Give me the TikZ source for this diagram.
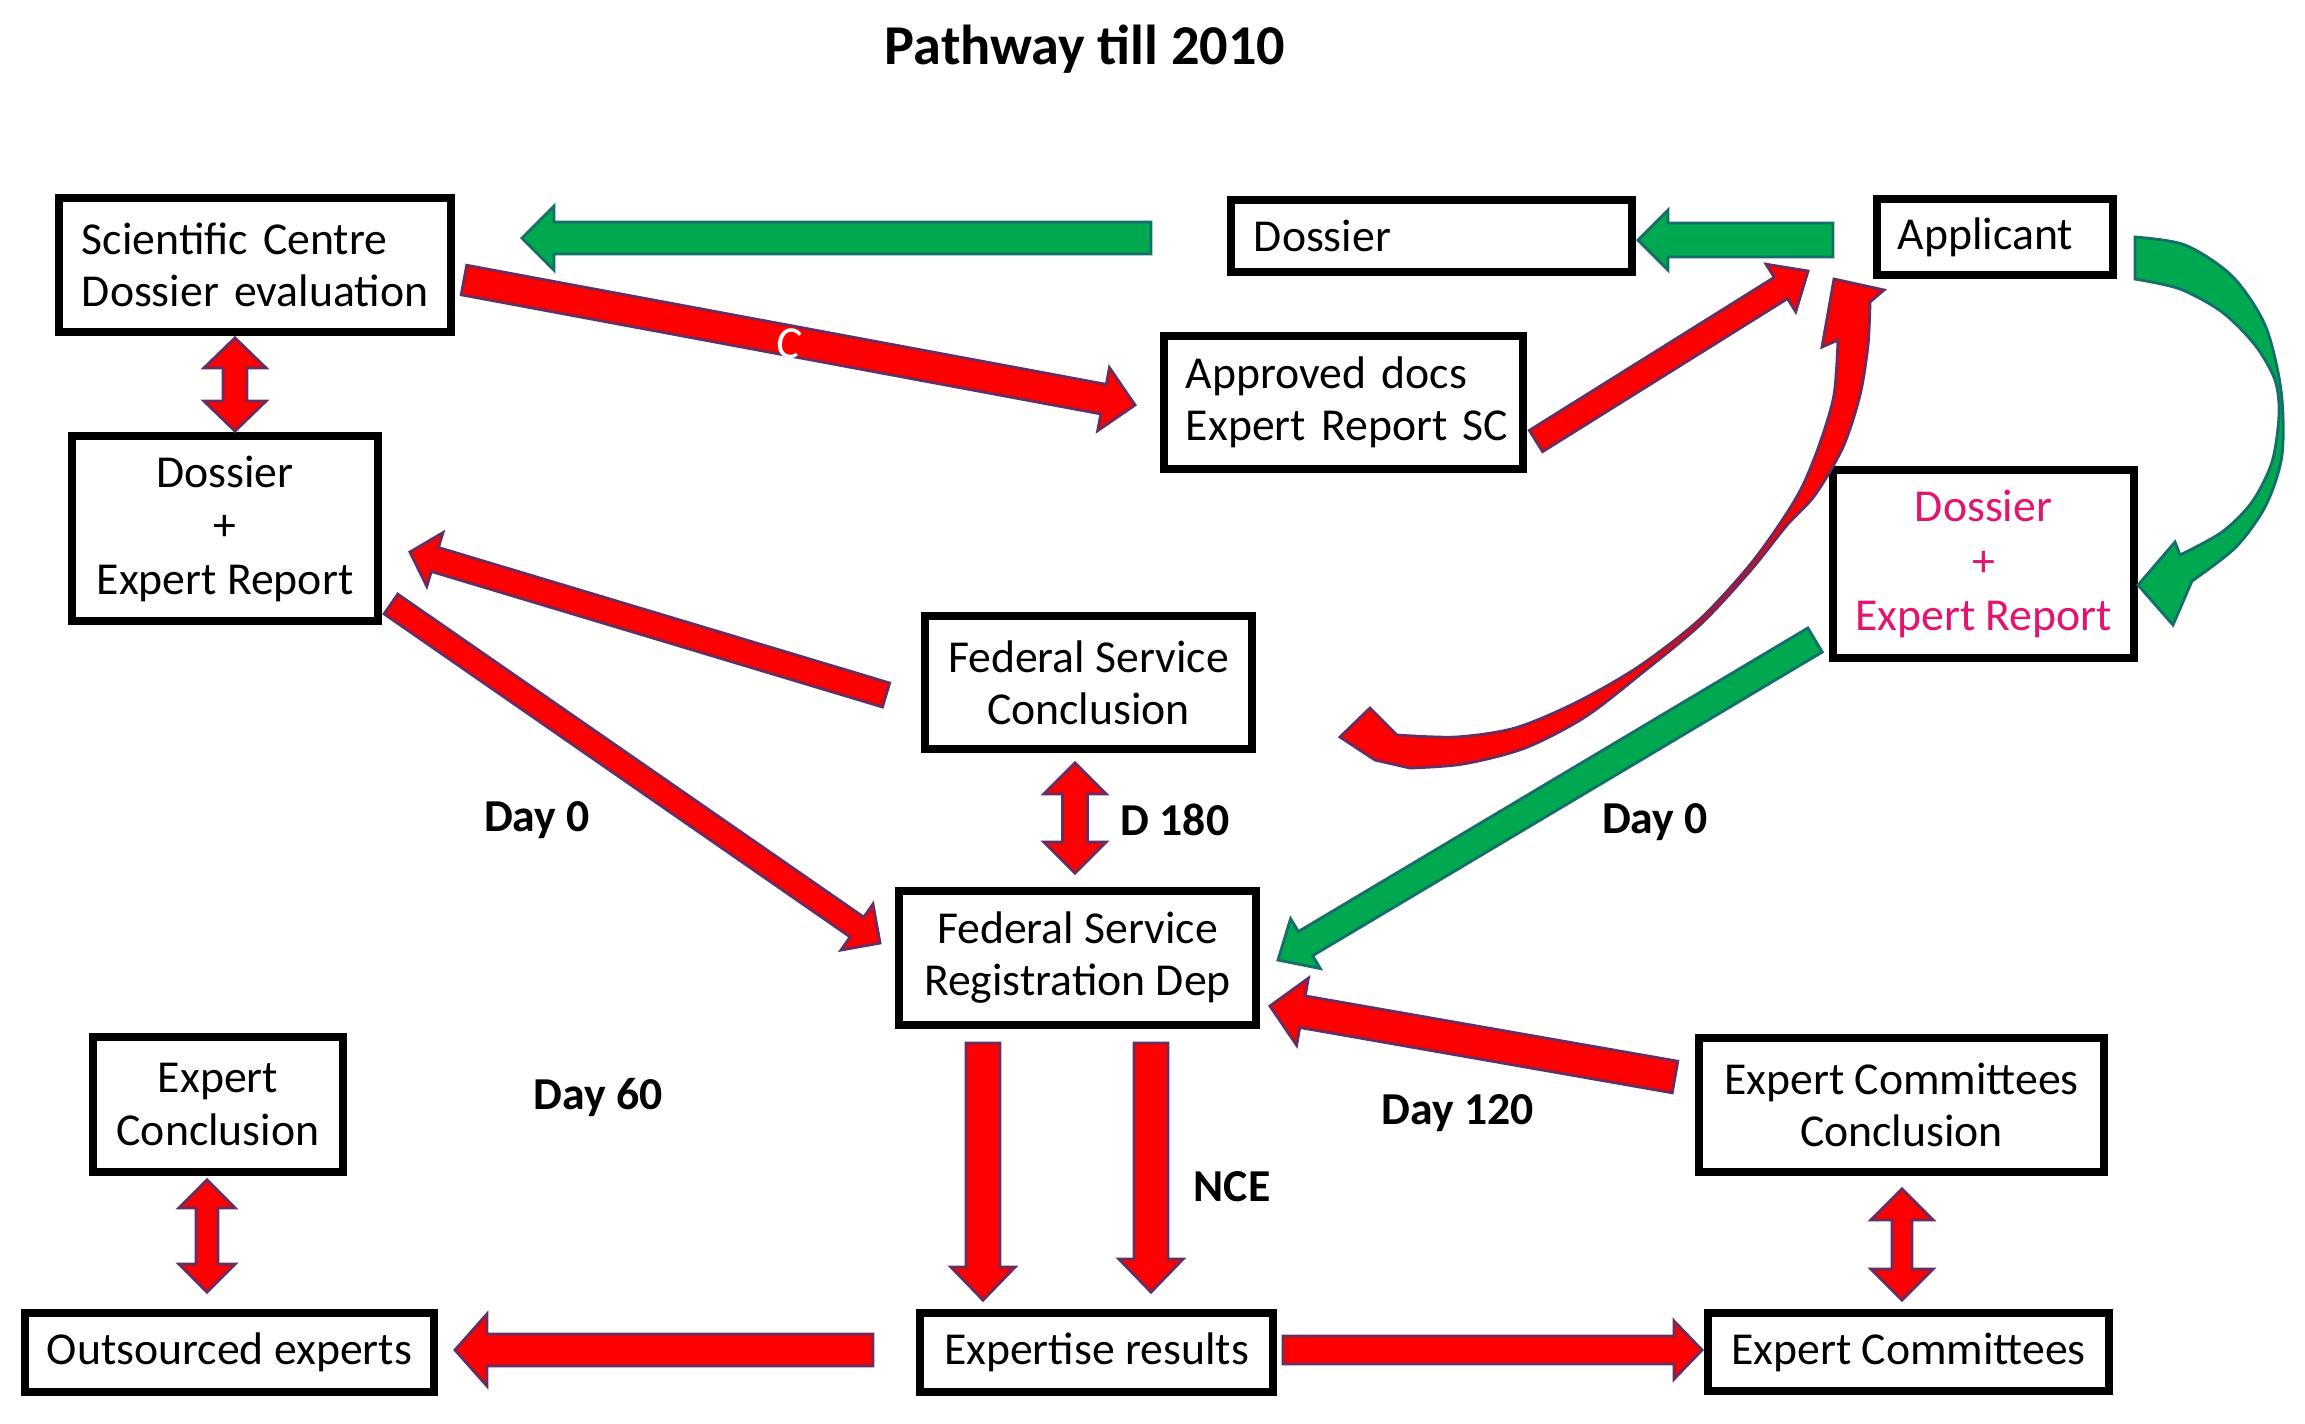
\documentclass[tikz,border=0pt]{standalone}
\usepackage{fontspec}
\setmainfont{Carlito}
\usetikzlibrary{calc}
\definecolor{arrred}{RGB}{255,0,0}
\definecolor{redline}{RGB}{105,45,95}
\definecolor{arrgreen}{RGB}{0,168,80}
\definecolor{greenline}{RGB}{20,110,105}
\definecolor{pinktext}{RGB}{228,20,110}
% single block arrow: [style]{from}{to}{shaft half width}{head half width}{head length}
\newcommand\blockarrow[6][]{%
  \path ($(#3)!#6!(#2)$) coordinate (bah);
  \filldraw[#1] ($(#2)!#4!90:(#3)$) -- ($(bah)!#4!90:(#3)$) -- ($(bah)!#5!90:(#3)$) -- (#3)
    -- ($(bah)!#5!-90:(#3)$) -- ($(bah)!#4!-90:(#3)$) -- ($(#2)!#4!-90:(#3)$) -- cycle;}
% double block arrow
\newcommand\dblarrow[6][]{%
  \path ($(#3)!#6!(#2)$) coordinate (dbh) ($(#2)!#6!(#3)$) coordinate (dba);
  \filldraw[#1] (#2) -- ($(dba)!#5!90:(#3)$) -- ($(dba)!#4!90:(#3)$) -- ($(dbh)!#4!90:(#3)$)
    -- ($(dbh)!#5!90:(#3)$) -- (#3) -- ($(dbh)!#5!-90:(#3)$) -- ($(dbh)!#4!-90:(#3)$)
    -- ($(dba)!#4!-90:(#3)$) -- ($(dba)!#5!-90:(#3)$) -- cycle;}
\begin{document}
\begin{tikzpicture}[x=0.01cm,y=-0.01cm,
  box/.style={draw=black, line width=2.2pt, fill=white, inner sep=0pt,
    font=\fontsize{13}{14.8}\selectfont, align=center},
  lbox/.style={box, align=left, inner xsep=#1},
  lbl/.style={font=\fontsize{13}{15}\selectfont\bfseries},
  redarr/.style={fill=arrred, draw=redline, line width=0.8pt, line join=miter},
  grnarr/.style={fill=arrgreen, draw=greenline, line width=0.8pt, line join=miter}]
\fill[white] (0,0) rectangle (2305,1423);
\useasboundingbox (0,0) rectangle (2305,1423);

\node[font=\fontsize{16}{18}\selectfont\bfseries] (title) at (1085,49) {Pathway till 2010};

% boxes
\node[lbox=0.23cm, text width=3.46cm, minimum height=1.34cm] (sc) at (255,265) {\mbox{Scientific Centre}\\\mbox{Dossier evaluation}};
\node[lbox=0.23cm, text width=3.55cm, minimum height=0.72cm] (dos) at (1431.5,236) {\mbox{Dossier}};
\node[lbox=0.21cm, text width=1.94cm, minimum height=0.76cm] (app) at (1995,237) {\mbox{Applicant}};
\node[lbox=0.22cm, text width=3.15cm, minimum height=1.33cm] (apr) at (1343.5,402.5) {\mbox{Approved docs}\\\mbox{Expert Report SC}};
\node[box, minimum width=3.06cm, minimum height=1.85cm, font=\fontsize{13}{15.2}\selectfont] (dl) at (225,528.5) {Dossier\\+\\Expert Report};
\node[box, minimum width=3.01cm, minimum height=1.88cm, text=pinktext, font=\fontsize{13}{15.4}\selectfont] (dr) at (1983.5,564) {Dossier\\+\\Expert Report};
\node[box, minimum width=3.27cm, minimum height=1.33cm] (fsc) at (1088.5,682.5) {Federal Service\\Conclusion};
\node[box, minimum width=3.57cm, minimum height=1.34cm] (fsr) at (1077.5,958) {Federal Service\\Registration Dep};
\node[box, minimum width=2.50cm, minimum height=1.35cm] (ec) at (218,1104.5) {Expert\\Conclusion};
\node[box, minimum width=4.05cm, minimum height=1.34cm] (ecc) at (1901.5,1105) {Expert Committees\\Conclusion};
\node[box, minimum width=4.09cm, minimum height=0.79cm] (out) at (229.5,1352.5) {Outsourced experts};
\node[box, minimum width=3.53cm, minimum height=0.79cm] (exr) at (1096.5,1352.5) {Expertise results};
\node[box, minimum width=4.01cm, minimum height=0.78cm] (ecm) at (1908.5,1352) {Expert Committees};

% labels
\node[lbl] (l1) at (537,820) {Day 0};
\node[lbl] (l2) at (1175,820) {D 180};
\node[lbl] (l3) at (1655,822) {Day 0};
\node[lbl] (l4) at (598,1097) {Day 60};
\node[lbl] (l5) at (1458,1113) {Day 120};
\node[lbl] (l6) at (1232,1187) {NCE};

% connector end points
\coordinate (a1) at ($(dos.west)+(-76,2)$);   \coordinate (a2) at ($(sc.east)+(67,-27)$);
\coordinate (b1) at ($(app.west)+(-40,3)$);   \coordinate (b2) at ($(dos.east)+(2,4)$);
\coordinate (c1) at ($(sc.east)+(9,15)$);     \coordinate (c2) at ($(apr.west)+(-25,2.5)$);
\coordinate (d1) at ($(apr.east)+(9,38.5)$);  \coordinate (d2) at ($(app.west)+(-65,34)$);
\coordinate (e1) at ($(sc.south)+(-20,2)$);   \coordinate (e2) at ($(dl.north)+(10,-1)$);
\coordinate (f1) at ($(fsc.west)+(-35,12.5)$); \coordinate (f2) at ($(dl.east)+(28,23.5)$);
\coordinate (g1) at ($(dl.east)+(9,75.5)$);   \coordinate (g2) at ($(fsr.west)+(-15,-15)$);
\coordinate (h1) at ($(dr.west)+(-14,76)$);   \coordinate (h2) at ($(fsr.east)+(18,2)$);
\coordinate (i1) at ($(fsc.south)+(-13.5,10)$); \coordinate (i2) at ($(fsr.north)+(-2.5,-14)$);
\coordinate (j1) at ($(ecc.west)+(-20,-28)$); \coordinate (j2) at ($(fsr.east)+(10,48)$);
\coordinate (k1) at ($(fsr.south)+(-94.5,14)$); \coordinate (k2) at ($(exr.north)+(-113.5,-9)$);
\coordinate (m1) at ($(fsr.south)+(73.5,14)$); \coordinate (m2) at ($(exr.north)+(54.5,-17)$);
\coordinate (n1) at ($(exr.west)+(-43,-2.5)$); \coordinate (n2) at ($(out.east)+(17,-2.5)$);
\coordinate (p1) at ($(exr.east)+(6,-2.5)$);  \coordinate (p2) at ($(ecm.west)+(-2,-2)$);
\coordinate (q1) at ($(ec.south)+(-11,4)$);   \coordinate (q2) at ($(out.north)+(-22.5,-17)$);
\coordinate (r1) at ($(ecc.south)+(0.5,13)$); \coordinate (r2) at ($(ecm.north)+(-6.5,-9)$);

% straight block arrows
\blockarrow[grnarr]{a1}{a2}{0.16cm}{0.32cm}{0.32cm}
\blockarrow[grnarr]{b1}{b2}{0.17cm}{0.30cm}{0.30cm}
\blockarrow[redarr]{c1}{c2}{0.15cm}{0.32cm}{0.32cm}
\node[text=white, rotate=-10.5, font=\fontsize{13}{15}\selectfont] (cl) at (789,343) {C};
\blockarrow[redarr]{d1}{d2}{0.125cm}{0.28cm}{0.32cm}
\dblarrow[redarr]{e1}{e2}{0.12cm}{0.31cm}{0.30cm}
\blockarrow[redarr]{f1}{f2}{0.125cm}{0.28cm}{0.26cm}
\blockarrow[redarr]{g1}{g2}{0.12cm}{0.28cm}{0.28cm}
\blockarrow[grnarr]{h1}{h2}{0.14cm}{0.29cm}{0.32cm}
\dblarrow[redarr]{i1}{i2}{0.125cm}{0.31cm}{0.31cm}
\blockarrow[redarr]{j1}{j2}{0.16cm}{0.34cm}{0.33cm}
\blockarrow[redarr]{k1}{k2}{0.17cm}{0.32cm}{0.33cm}
\blockarrow[redarr]{m1}{m2}{0.17cm}{0.32cm}{0.33cm}
\blockarrow[redarr]{n1}{n2}{0.16cm}{0.36cm}{0.32cm}
\blockarrow[redarr]{p1}{p2}{0.14cm}{0.29cm}{0.28cm}
\dblarrow[redarr]{q1}{q2}{0.11cm}{0.28cm}{0.28cm}
\dblarrow[redarr]{r1}{r2}{0.10cm}{0.31cm}{0.31cm}

% curved red arrow (Federal Service Conclusion side -> Applicant)
\filldraw[redarr] (1834,279) -- (1884,290) -- (1870,302)
  -- plot[smooth, tension=0.5] coordinates {(1870,302) (1868,345) (1860,395) (1843,447) (1815,495) (1787,525) (1751,570) (1701,624) (1642,673) (1585,717) (1525,748) (1463,764) (1410,768)}
  -- (1375,760) -- (1340,737) -- (1370,708) -- (1397,735)
  -- plot[smooth, tension=0.5] coordinates {(1397,735) (1456,737) (1515,728) (1575,703) (1638,667) (1699,620) (1749,566) (1783,519) (1803,485) (1820,443) (1834,395) (1838,340)}
  -- (1822,347) -- cycle;

% curved green arrow (Applicant -> Dossier + Expert Report)
\filldraw[grnarr] (2135,237)
  -- plot[smooth, tension=0.5] coordinates {(2135,237) (2185,245) (2232,276) (2265,325) (2281,390) (2282,455) (2266,505) (2236,547) (2192,581)}
  -- (2173,625) -- (2138,585) -- (2175,542) -- (2180,555)
  -- plot[smooth, tension=0.5] coordinates {(2180,555) (2222,532) (2252,502) (2272,462) (2279,415) (2275,380) (2255,345) (2222,312) (2180,289) (2135,279)}
  -- cycle;
\end{tikzpicture}
\end{document}
